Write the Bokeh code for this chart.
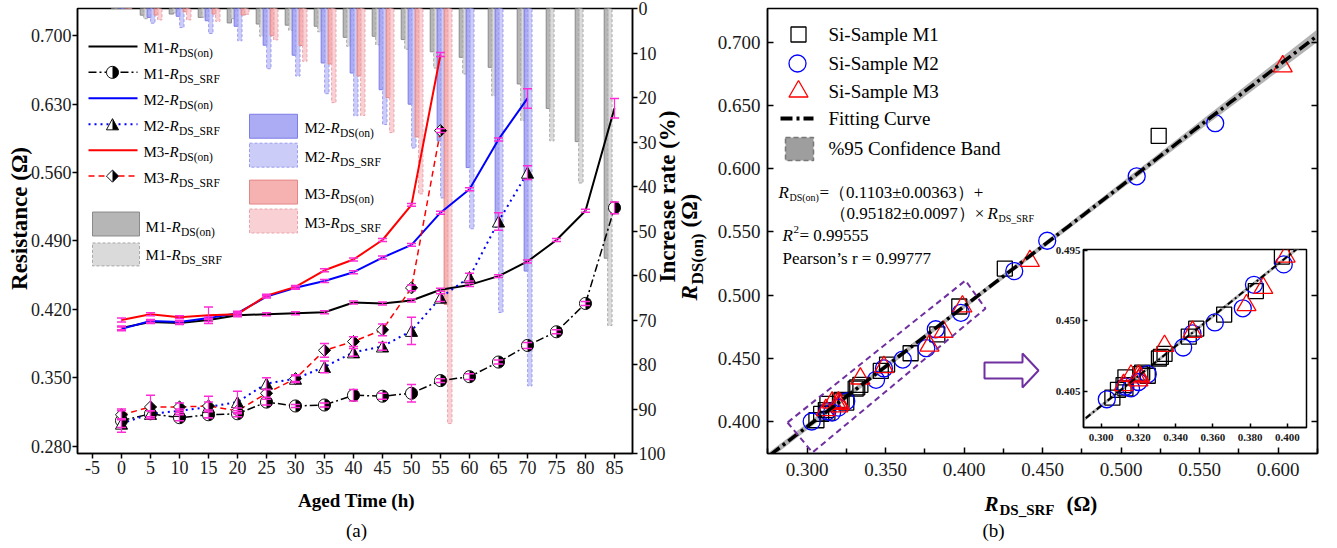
import base64
import math
import numpy as np
from bokeh.plotting import figure
from bokeh.models import (Range1d, LinearAxis, FixedTicker, PrintfTickFormatter,
                          ColumnDataSource, Whisker, TeeHead, Label, PolyAnnotation, Spacer)
from bokeh.transform import dodge
from bokeh.layouts import row, column
from bokeh.embed import file_html
from bokeh.resources import INLINE

# ---------------- data ----------------
hours = [0, 5, 10, 15, 20, 25, 30, 35, 40, 45, 50, 55, 60, 65, 70, 75, 80, 85]
m1_on = [0.401, 0.407, 0.406, 0.409, 0.414, 0.415, 0.416, 0.417, 0.427, 0.426,
         0.429, 0.440, 0.445, 0.454, 0.469, 0.491, 0.521, 0.626]
m1_srf = [0.306, 0.313, 0.309, 0.312, 0.313, 0.325, 0.321, 0.322, 0.332, 0.331,
          0.334, 0.347, 0.351, 0.366, 0.383, 0.397, 0.426, 0.524]
m2_on = [0.400, 0.408, 0.407, 0.411, 0.416, 0.433, 0.442, 0.449, 0.458, 0.473,
         0.486, 0.519, 0.543, 0.594, 0.636]
m2_srf = [0.303, 0.313, 0.316, 0.320, 0.325, 0.344, 0.349, 0.361, 0.376, 0.382,
          0.398, 0.432, 0.453, 0.510, 0.560]
m3_on = [0.409, 0.415, 0.412, 0.414, 0.415, 0.434, 0.443, 0.460, 0.471, 0.491,
         0.527, 0.681]
m3_srf = [0.312, 0.320, 0.320, 0.321, 0.316, 0.334, 0.349, 0.378, 0.387, 0.399,
          0.442, 0.603]

m1_on_err = [0.002, 0.0015, 0.0015, 0.0015, 0.0015, 0.0015, 0.0015, 0.0015, 0.0015,
             0.0015, 0.0015, 0.0015, 0.0015, 0.0015, 0.0015, 0.0015, 0.0015, 0.010]
m1_srf_err = [0.012, 0.003, 0.003, 0.003, 0.003, 0.003, 0.0015, 0.002, 0.006, 0.003,
              0.009, 0.002, 0.003, 0.002, 0.003, 0.002, 0.002, 0.006]
m2_on_err = [0.002, 0.0015, 0.0015, 0.0015, 0.002, 0.0015, 0.0015, 0.0015, 0.0015,
             0.0015, 0.0015, 0.0015, 0.0015, 0.0015, 0.010]
m2_srf_err = [0.004, 0.003, 0.002, 0.011, 0.011, 0.006, 0.003, 0.006, 0.004, 0.004,
              0.014, 0.004, 0.004, 0.009, 0.007]
m3_on_err = [0.002, 0.0015, 0.0015, 0.0085, 0.002, 0.0015, 0.0015, 0.0015, 0.0015,
             0.0015, 0.0015, 0.002]
m3_srf_err = [0.004, 0.012, 0.004, 0.004, 0.003, 0.004, 0.004, 0.007, 0.005, 0.006,
              0.003, 0.002]

time_ticks = [-5, 0, 5, 10, 15, 20, 25, 30, 35, 40, 45, 50, 55, 60, 65, 70, 75, 80, 85]
res_ticks = [0.280, 0.350, 0.420, 0.490, 0.560, 0.630, 0.700]
rate_ticks = [0, 10, 20, 30, 40, 50, 60, 70, 80, 90, 100]
fit_x_ticks = [0.300, 0.350, 0.400, 0.450, 0.500, 0.550, 0.600]
fit_x_minor = [0.275, 0.325, 0.375, 0.425, 0.475, 0.525, 0.575, 0.625]
fit_y_ticks = [0.400, 0.450, 0.500, 0.550, 0.600, 0.650, 0.700]
inset_x_ticks = [0.300, 0.320, 0.340, 0.360, 0.380, 0.400]
inset_y_ticks = [0.405, 0.450, 0.495]
fit_intercept = 0.1103
fit_slope = 0.95182

FONT = "Liberation Serif"
MAG = "#ff2bd6"
PURPLE = "#7030a0"


# ---------------- helpers: page-pixel -> data (layout positions only) ----------------
def X1(px):
    return (px - 121.0) / 5.8


def Y1(py):
    return 0.28 + (445.5 - py) * 0.07 / 68.5


def X2(px):
    return 0.300 + (px - 806.5) * 0.05 / 78.5


def Y2(py):
    return 0.400 + (421.0 - py) * 0.05 / 63.2


def uri(svg):
    return "data:image/svg+xml;base64," + base64.b64encode(svg.encode()).decode()


HDR = "<svg xmlns='http://www.w3.org/2000/svg' width='30' height='30' viewBox='0 0 30 30'>"
CIRCLE_URI = uri(HDR + "<circle cx='15' cy='15' r='13' fill='white' stroke='black' stroke-width='2'/>"
                 "<path d='M15 2 A13 13 0 0 1 15 28 Z' fill='black'/></svg>")
TRI_URI = uri(HDR + "<polygon points='15,3 28,27 2,27' fill='white' stroke='black' stroke-width='2'/>"
              "<polygon points='15,3 28,27 15,27' fill='black'/></svg>")
DIA_URI = uri(HDR + "<polygon points='15,2 28,15 15,28 2,15' fill='white' stroke='black' stroke-width='2'/>"
              "<polygon points='15,2 28,15 15,28' fill='black'/></svg>")


def lab(p, x, y, text, size, style="normal", angle=0.0, align="left", baseline="middle",
        color="black"):
    p.add_layout(Label(x=x, y=y, text=text, text_font=FONT, text_font_size=f"{size}px",
                       text_font_style=style, angle=angle, text_align=align,
                       text_baseline=baseline, text_color=color))


def style_axis(ax, size, tick_in, tick_out, standoff, bold=False):
    ax.axis_line_color = "black"
    ax.axis_line_width = 1.5
    ax.major_tick_line_color = "black"
    ax.major_tick_line_width = 1.5
    ax.major_tick_in = tick_in
    ax.major_tick_out = tick_out
    ax.minor_tick_line_color = None
    ax.major_label_text_font = FONT
    ax.major_label_text_font_size = f"{size}px"
    ax.major_label_text_color = "#1a1a1a"
    ax.major_label_standoff = standoff
    if bold:
        ax.major_label_text_font_style = "bold"


# ================= panel (a) =================
p1 = figure(width=676, height=548, output_backend="svg", toolbar_location=None,
            x_range=Range1d(X1(77), X1(632)), y_range=Range1d(Y1(453), Y1(7)),
            min_border_left=77, min_border_right=44, min_border_top=7, min_border_bottom=95)
p1.extra_y_ranges = {"rate": Range1d(start=100, end=0)}
p1.xgrid.visible = False
p1.ygrid.visible = False
p1.outline_line_color = "black"
p1.outline_line_width = 1.5
p1.xaxis.ticker = FixedTicker(ticks=time_ticks)
p1.xaxis.formatter = PrintfTickFormatter(format="%d")
p1.yaxis.ticker = FixedTicker(ticks=res_ticks)
p1.yaxis.formatter = PrintfTickFormatter(format="%.3f")
style_axis(p1.xaxis[0], 18, 0, 5, 2)
style_axis(p1.yaxis[0], 18, 0, 5, 1)
rax = LinearAxis(y_range_name="rate", ticker=FixedTicker(ticks=rate_ticks),
                 formatter=PrintfTickFormatter(format="%d"))
style_axis(rax, 18, 0, 5, 1)
p1.add_layout(rax, "right")

series = [
    dict(name="M1-", sub="DS(on)", vals=m1_on, err=m1_on_err, color="black", dash="solid",
         lw=2, marker=None, bfill="#a9a9a9", bline="#8a8a8a", bdash="solid", off=-1.4),
    dict(name="M1-", sub="DS_SRF", vals=m1_srf, err=m1_srf_err, color="black", dash="8 3 2 3",
         lw=1.5, marker=CIRCLE_URI, bfill="#d3d3d3", bline="#a8a8a8", bdash="3 2", off=-0.8),
    dict(name="M2-", sub="DS(on)", vals=m2_on, err=m2_on_err, color="#0000ff", dash="solid",
         lw=2, marker=None, bfill="#9e9ef2", bline="#7d7de6", bdash="solid", off=-0.2),
    dict(name="M2-", sub="DS_SRF", vals=m2_srf, err=m2_srf_err, color="#0000ff", dash="2 4",
         lw=2, marker=TRI_URI, bfill="#c3c3f8", bline="#9b9bef", bdash="3 2", off=0.4),
    dict(name="M3-", sub="DS(on)", vals=m3_on, err=m3_on_err, color="#ff0000", dash="solid",
         lw=2, marker=None, bfill="#f4a3a3", bline="#e38686", bdash="solid", off=1.0),
    dict(name="M3-", sub="DS_SRF", vals=m3_srf, err=m3_srf_err, color="#ff0000", dash="6 4",
         lw=1.5, marker=DIA_URI, bfill="#f8c9ce", bline="#eba3ab", bdash="3 2", off=1.6),
]

sources = []
for s in series:
    n = len(s["vals"])
    v = s["vals"]
    rate = [(vi / v[0] - 1.0) * 100.0 for vi in v]
    src = ColumnDataSource(dict(
        t=hours[:n], v=v, rate=rate,
        upper=[vi + e for vi, e in zip(v, s["err"])],
        lower=[vi - e for vi, e in zip(v, s["err"])],
        url=[s["marker"] or ""] * n))
    sources.append(src)

for s, src in zip(series, sources):
    p1.vbar(x=dodge("t", s["off"], range=p1.x_range), top=0, bottom="rate", width=0.75,
            y_range_name="rate", source=src, fill_color=s["bfill"], fill_alpha=0.85,
            line_color=s["bline"], line_width=1, line_dash=s["bdash"])
for s, src in zip(series, sources):
    p1.line(x="t", y="v", source=src, line_color=s["color"], line_width=s["lw"],
            line_dash=s["dash"])
for s, src in zip(series, sources):
    if s["marker"]:
        p1.image_url(url="url", x="t", y="v", w=14, h=14, w_units="screen", h_units="screen",
                     anchor="center", source=src)
for s, src in zip(series, sources):
    p1.add_layout(Whisker(source=src, base="t", upper="upper", lower="lower",
                          line_color=MAG, line_width=1.2, level="overlay",
                          upper_head=TeeHead(size=9, line_color=MAG, line_width=1.5),
                          lower_head=TeeHead(size=9, line_color=MAG, line_width=1.5)))

# ---- legend: lines ----
line_rows = [45, 71, 97, 123, 149, 175]
for s, py in zip(series, line_rows):
    p1.line([X1(88), X1(137)], [Y1(py), Y1(py)], line_color=s["color"], line_width=s["lw"],
            line_dash=s["dash"])
    if s["marker"]:
        p1.image_url(url=[s["marker"]], x=[X1(112)], y=[Y1(py)], w=14, h=14,
                     w_units="screen", h_units="screen", anchor="center")
    lab(p1, X1(143), Y1(py + 2), s["name"], 15)
    lab(p1, X1(169), Y1(py + 2), "R", 15, "italic")
    lab(p1, X1(178.5), Y1(py + 7), s["sub"], 11.5)

# ---- legend: bars ----
bar_boxes = [
    (series[0], 92, 139, 211, 235, 145, 226),
    (series[1], 92, 139, 242, 265, 145, 254),
    (series[2], 249, 297, 113, 137, 304, 127),
    (series[3], 249, 297, 142, 166, 304, 156),
    (series[4], 249, 297, 179, 203, 304, 193),
    (series[5], 249, 297, 208, 232, 304, 222),
]
for s, l, r, t, b, tx, ty in bar_boxes:
    p1.quad(left=X1(l), right=X1(r), top=Y1(t), bottom=Y1(b), fill_color=s["bfill"],
            fill_alpha=0.85, line_color=s["bline"], line_dash=s["bdash"], line_width=1)
    lab(p1, X1(tx), Y1(ty), s["name"], 15)
    lab(p1, X1(tx + 26), Y1(ty), "R", 15, "italic")
    lab(p1, X1(tx + 35.5), Y1(ty + 5), s["sub"], 11.5)

# ================= panel (b) =================
p2 = figure(width=661, height=548, output_backend="svg", toolbar_location=None,
            x_range=Range1d(X2(767), X2(1317)), y_range=Range1d(Y2(453), Y2(8)),
            min_border_left=91, min_border_right=20, min_border_top=8, min_border_bottom=95)
p2.xgrid.visible = False
p2.ygrid.visible = False
p2.outline_line_color = "black"
p2.outline_line_width = 1.5
p2.xaxis.ticker = FixedTicker(ticks=fit_x_ticks, minor_ticks=fit_x_minor)
p2.xaxis.formatter = PrintfTickFormatter(format="%.3f")
p2.yaxis.ticker = FixedTicker(ticks=fit_y_ticks)
p2.yaxis.formatter = PrintfTickFormatter(format="%.3f")
style_axis(p2.xaxis[0], 19, 6, 0, 9)
p2.xaxis.minor_tick_line_color = "black"
p2.xaxis.minor_tick_line_width = 1.5
p2.xaxis.minor_tick_in = 5
p2.xaxis.minor_tick_out = 0
style_axis(p2.yaxis[0], 19, 6, 0, 7)
rax2 = LinearAxis(ticker=FixedTicker(ticks=fit_y_ticks),
                  major_label_overrides={t: "" for t in fit_y_ticks})
style_axis(rax2, 1, 6, 0, 0)
p2.add_layout(rax2, "right")

xs = np.linspace(X2(767) - 0.01, X2(1317) + 0.01, 80)
fit = fit_intercept + fit_slope * xs
hw = 0.002 + 0.06 * (xs - 0.40) ** 2
p2.varea(x=xs, y1=fit - hw, y2=fit + hw, fill_color="#b3b3b3")

p2.scatter(m1_srf, m1_on, marker="square", size=15, fill_color=None, line_color="black",
           line_width=1.3)
p2.scatter(m2_srf, m2_on, marker="circle", size=17, fill_color=None, line_color="#0000ff",
           line_width=1.3)
p2.scatter(m3_srf, m3_on, marker="triangle", size=19, fill_color=None, line_color="#ff0000",
           line_width=1.3)
p2.line(xs, fit, line_color="black", line_width=3.5, line_dash="12 4 3 4")

p2.add_layout(PolyAnnotation(xs=[X2(787), X2(812), X2(985), X2(965)],
                             ys=[Y2(422), Y2(452), Y2(308), Y2(280)],
                             fill_alpha=0, line_alpha=1, line_color=PURPLE, line_dash="6 4",
                             line_width=2))
p2.add_layout(PolyAnnotation(xs=[X2(984), X2(1022), X2(1022), X2(1038), X2(1022), X2(1022), X2(984)],
                             ys=[Y2(362), Y2(362), Y2(353), Y2(370), Y2(387), Y2(378), Y2(378)],
                             fill_color="white", fill_alpha=1, line_alpha=1, line_color=PURPLE,
                             line_width=2))

# legend (b)
p2.scatter([X2(798)], [Y2(34)], marker="square", size=15, fill_color=None, line_color="black",
           line_width=1.3)
p2.scatter([X2(797)], [Y2(63)], marker="circle", size=17, fill_color=None, line_color="#0000ff",
           line_width=1.3)
p2.scatter([X2(798)], [Y2(91)], marker="triangle", size=19, fill_color=None, line_color="#ff0000",
           line_width=1.3)
p2.line([X2(780), X2(813)], [Y2(118), Y2(118)], line_color="black", line_width=4,
        line_dash="12 4 3 4")
p2.quad(left=X2(785), right=X2(813), top=Y2(137), bottom=Y2(160), fill_color="#9e9e9e",
        line_color="#777777", line_dash="5 3", line_width=1.5)
for txt, py in [("Si-Sample M1", 34), ("Si-Sample M2", 63), ("Si-Sample M3", 91),
                ("Fitting Curve", 118), ("%95 Confidence Band", 148)]:
    lab(p2, X2(828), Y2(py), txt, 19)

# equation
lab(p2, X2(778), Y2(192), "R", 17, "italic")
lab(p2, X2(789), Y2(197), "DS(on)", 10)
lab(p2, X2(819), Y2(192), "=（0.1103±0.00363）+", 17)
lab(p2, X2(829), Y2(213), "（0.95182±0.0097）×", 17)
lab(p2, X2(987), Y2(213), "R", 17, "italic")
lab(p2, X2(998), Y2(218), "DS_SRF", 10)
lab(p2, X2(782), Y2(235), "R", 17, "italic")
lab(p2, X2(793), Y2(229), "2", 11)
lab(p2, X2(799), Y2(235), " = 0.99555", 17)
lab(p2, X2(782), Y2(258), "Pearson’s r = 0.99777", 17)

# ================= overlay with the texts that sit outside the frames =================
ov = figure(width=1337, height=548, output_backend="svg", toolbar_location=None,
            x_range=Range1d(0, 1337), y_range=Range1d(548, 0),
            min_border_left=0, min_border_right=0, min_border_top=0, min_border_bottom=0,
            background_fill_alpha=0, border_fill_alpha=0, outline_line_color=None)
ov.axis.visible = False
ov.xgrid.visible = False
ov.ygrid.visible = False
lab(ov, 19, 218, "Resistance (Ω)", 23, "bold", angle=math.pi / 2, align="center")
lab(ov, 667, 196, "Increase rate (%)", 23, "bold", angle=math.pi / 2, align="center")
lab(ov, 356, 500, "Aged Time (h)", 19, "bold", align="center")
lab(ov, 356, 530, "(a)", 19, "normal", align="center")
lab(ov, 689, 300, "R", 23, "bold italic", angle=math.pi / 2)
lab(ov, 697, 284, "DS(on)", 17, "bold", angle=math.pi / 2)
lab(ov, 689, 227, "(Ω)", 23, "bold", angle=math.pi / 2)
lab(ov, 984, 503, "R", 21, "bold italic")
lab(ov, 999, 509, "DS_SRF", 15, "bold")
lab(ov, 1066, 503, "(Ω)", 21, "bold")
lab(ov, 993, 530, "(b)", 19, "normal", align="center")
ov.margin = (-548, 0, 0, 0)

# ================= inset =================
p3 = figure(width=269, height=209, output_backend="svg", toolbar_location=None,
            x_range=Range1d(0.2905, 0.4102), y_range=Range1d(0.382, 0.4955),
            min_border_left=44, min_border_right=2, min_border_top=9, min_border_bottom=22,
            border_fill_alpha=0)
p3.xgrid.visible = False
p3.ygrid.visible = False
p3.outline_line_color = "black"
p3.outline_line_width = 1.5
p3.xaxis.ticker = FixedTicker(ticks=inset_x_ticks)
p3.xaxis.formatter = PrintfTickFormatter(format="%.3f")
p3.yaxis.ticker = FixedTicker(ticks=inset_y_ticks)
p3.yaxis.formatter = PrintfTickFormatter(format="%.3f")
style_axis(p3.xaxis[0], 11, 4, 0, 6, bold=True)
style_axis(p3.yaxis[0], 11, 4, 0, 3, bold=True)

xi = np.linspace(0.28, 0.42, 40)
fi = fit_intercept + fit_slope * xi
p3.varea(x=xi, y1=fi - 0.0012, y2=fi + 0.0012, fill_color="#b3b3b3")
p3.scatter(m1_srf, m1_on, marker="square", size=15, fill_color=None, line_color="black",
           line_width=1.3)
p3.scatter(m2_srf, m2_on, marker="circle", size=17, fill_color=None, line_color="#0000ff",
           line_width=1.3)
p3.scatter(m3_srf, m3_on, marker="triangle", size=19, fill_color=None, line_color="#ff0000",
           line_width=1.3)
p3.line(xi, fi, line_color="black", line_width=2, line_dash="6 3 2 3")

inset_row = row(Spacer(width=1039, height=209), p3)
inset_row.margin = (240 - 548, 0, 548 - 240 - 209, 0)

layout = column(row(p1, p2), ov, inset_row)
open("out.html", "w").write(file_html(layout, INLINE))
